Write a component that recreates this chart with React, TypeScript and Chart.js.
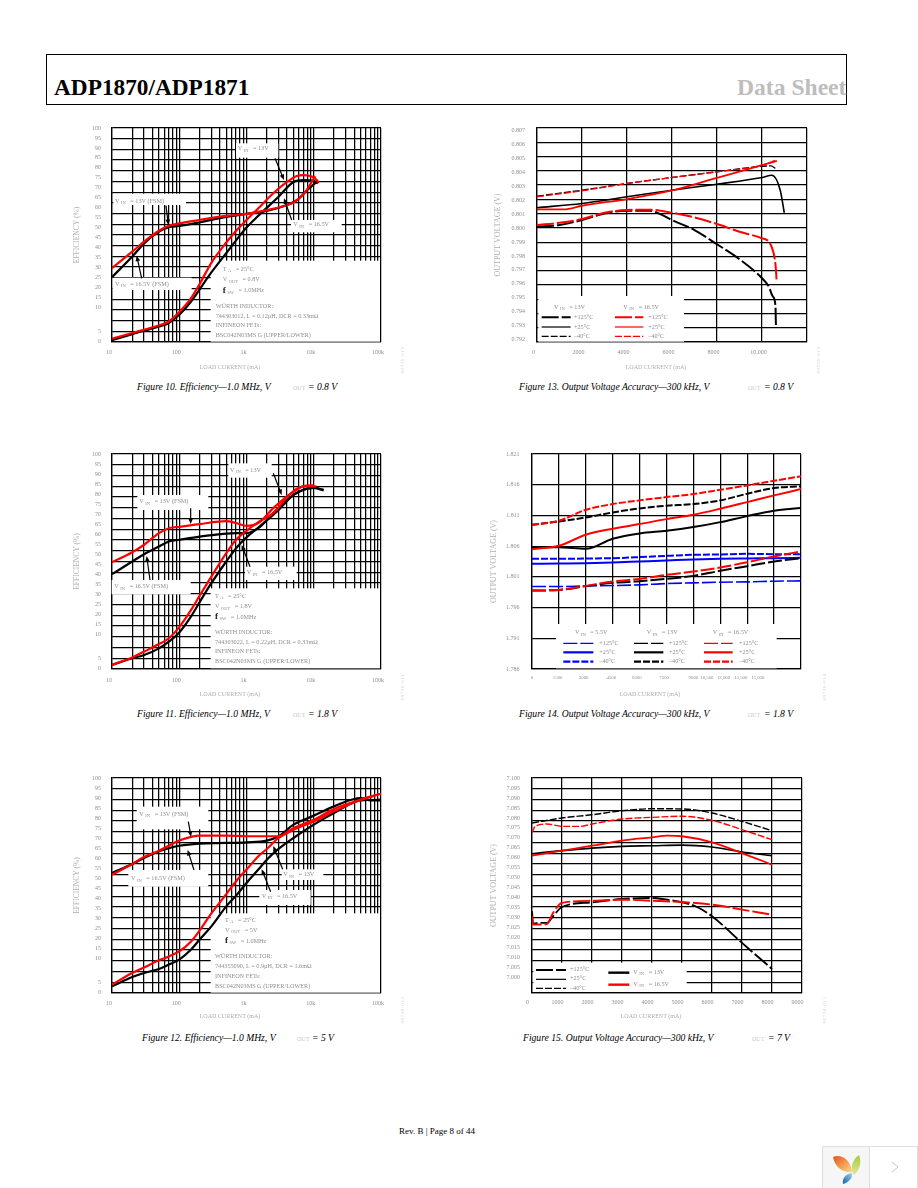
import React, { useEffect, useRef } from "react";
import { Chart, registerables } from "chart.js";

Chart.register(...registerables);

const SERIF = '"Liberation Serif", "Times New Roman", serif';
const BLACK = "#000000";
const RED = "#ff0000";
const BLUE = "#0000ff";

/* ---------- axis ticks ---------- */
const logGridTicks = [
  10, 20, 30, 40, 50, 60, 70, 80, 90, 100, 200, 300, 400, 500, 600, 700, 800, 900, 1000, 2000, 3000, 4000, 5000, 6000,
  7000, 8000, 9000, 10000, 20000, 30000, 40000, 50000, 60000, 70000, 80000, 90000, 100000,
];
const logLabelValues = [10, 100, 1000, 10000, 100000];
const logLabelTexts = ["10", "100", "1k", "10k", "100k"];
const effGridTicks = [0, 5, 10, 15, 20, 25, 30, 35, 40, 45, 50, 55, 60, 65, 70, 75, 80, 85, 90, 95, 100];
const effLabelTexts = ["100", "95", "90", "85", "80", "75", "70", "65", "60", "55", "50", "45", "40", "35", "30", "25", "20", "15", "10", "5", "0"];
const effLabelStops = [100, 95, 90, 85, 80, 75, 70, 65, 60, 55, 50, 45, 40, 35, 30, 25, 20, 15, 10, -2, -7];

const fig13GridY = [0.792, 0.793, 0.794, 0.795, 0.796, 0.797, 0.798, 0.799, 0.8, 0.801, 0.802, 0.803, 0.804, 0.805, 0.806, 0.807];
const fig13LabelY = ["0.807", "0.806", "0.805", "0.804", "0.803", "0.802", "0.801", "0.800", "0.799", "0.798", "0.797", "0.796", "0.795", "0.794", "0.793", "0.792"];
const fig13GridX = [0, 2000, 4000, 6000, 8000, 10000, 12000];
const fig13LabelX = ["0", "2000", "4000", "6000", "8000", "10,000", ""];

const fig14GridY = [1.786, 1.791, 1.796, 1.801, 1.806, 1.811, 1.816, 1.821];
const fig14LabelY = ["1.821", "1.816", "1.811", "1.806", "1.801", "1.796", "1.791", "1.786"];
const fig14GridX = [0, 1500, 3000, 4500, 6000, 7500, 9000, 10500, 12000, 13500, 15000];
const fig14LabelX = ["0", "1500", "3000", "4500", "6000", "7500", "9000", "10,500", "12,000", "13,500", "15,000"];
const fig14LabelStops = [0, 1430, 2880, 4420, 5850, 7370, 9000, 9750, 10680, 11640, 12590];

const fig15GridY = [7.0, 7.005, 7.01, 7.015, 7.02, 7.025, 7.03, 7.035, 7.04, 7.045, 7.05, 7.055, 7.06, 7.065, 7.07, 7.075, 7.08, 7.085, 7.09, 7.095, 7.1];
const fig15LabelY = ["7.100", "7.095", "7.090", "7.085", "7.080", "7.075", "7.070", "7.065", "7.060", "7.055", "7.050", "7.045", "7.040", "7.035", "7.030", "7.025", "7.020", "7.015", "7.010", "7.005", "7.000"];
const fig15GridX = [0, 1000, 2000, 3000, 4000, 5000, 6000, 7000, 8000, 9000];
const fig15LabelX = ["0", "1000", "2000", "3000", "4000", "5000", "6000", "7000", "8000", "9000"];

/* ---------- Figure 10 ---------- */
const f10RedFsmX = [10, 20, 30, 50, 70, 100, 200, 500, 1000, 2000, 4000, 5000, 7000, 10000, 10500];
const f10RedFsmY = [34.5, 42.2, 46.9, 52, 54.3, 55.4, 57, 58.9, 59.9, 61.6, 64, 65.2, 68.9, 76.4, 77.5];
const f10BlackFsmX = [10, 20, 30, 50, 70, 100, 200, 500, 1000, 2000, 4000, 5600, 8000, 11500];
const f10BlackFsmY = [30.3, 39.9, 46.1, 51.6, 53.6, 54.2, 55.9, 58.5, 59.9, 61.2, 64, 66.3, 71, 75.3];
const f10RedCcmX = [10, 20, 50, 70, 100, 150, 200, 300, 500, 700, 1000, 1500, 2500, 4000, 5600, 7000, 10000, 12000];
const f10RedCcmY = [1.6, 4.2, 7.8, 9.6, 14, 20.5, 27, 37, 46.5, 52, 57, 62.5, 69.5, 74.8, 77.6, 78, 76.9, 74.4];
const f10BlackCcmX = [10, 20, 50, 70, 100, 150, 200, 300, 500, 700, 1000, 1500, 3000, 5000, 7000, 10000, 11500];
const f10BlackCcmY = [0.9, 3.7, 7.3, 8.9, 12.7, 18.9, 24.5, 32.5, 41.5, 47.5, 53.5, 59, 67.9, 74.8, 75.6, 75.3, 74.1];

/* ---------- Figure 11 ---------- */
const f11RedFsmX = [10, 20, 30, 50, 70, 100, 200, 500, 700, 1000, 1500, 2500, 4000, 5600, 7000, 10000];
const f11RedFsmY = [49.7, 54.3, 57.8, 63.2, 65.5, 66.1, 67.4, 68.8, 67.9, 66.6, 67.9, 74.8, 80.3, 83.4, 85.1, 85.4];
const f11BlackFsmX = [10, 20, 30, 50, 70, 100, 200, 500, 700, 1000, 1500, 2500, 4000, 7000, 10000, 14000];
const f11BlackFsmY = [44.1, 50, 53.4, 57, 59.3, 60.1, 61.6, 63, 63.2, 63.2, 65.5, 72.5, 78.7, 83.4, 84.2, 83.4];
const f11RedCcmX = [10, 20, 30, 50, 70, 100, 150, 200, 300, 500, 700, 1000, 1500, 2500, 4000, 5600, 8000, 11000];
const f11RedCcmY = [1.9, 5.4, 8.1, 11.6, 14.3, 19.5, 27.5, 34, 43, 53.9, 60.1, 64.3, 68.3, 72.5, 79.8, 83.9, 85.1, 84.9];
const f11BlackCcmX = [10, 20, 30, 50, 70, 100, 150, 200, 300, 500, 700, 1000, 1500, 3000, 5000, 7000, 10000, 14000];
const f11BlackCcmY = [1.9, 5, 6.5, 9.6, 12.7, 17, 24.5, 31, 39.9, 50, 56.2, 61.2, 65.8, 74, 81, 83.4, 84.2, 83.1];

/* ---------- Figure 12 ---------- */
const f12RedFsmX = [10, 20, 30, 50, 70, 100, 150, 200, 500, 1000, 2000, 3000, 5000, 10000, 20000, 50000, 100000];
const f12RedFsmY = [55, 60, 63.3, 66.2, 68.5, 70.9, 72.6, 73.2, 73.2, 72.9, 72.9, 72.9, 76.7, 80.6, 85.6, 89.9, 92.7];
const f12BlackFsmX = [10, 20, 30, 50, 70, 100, 200, 500, 1000, 2000, 3000, 5000, 10000, 20000, 50000, 70000, 100000];
const f12BlackFsmY = [55.8, 60, 62.8, 65.9, 67.4, 68.5, 69.5, 69.8, 70.1, 70.9, 72.9, 78.3, 82.5, 86.8, 90.7, 89.6, 89.6];
const f12RedCcmX = [10, 20, 30, 50, 70, 100, 150, 200, 300, 500, 700, 1000, 1500, 2000, 3000, 5000, 10000, 20000, 50000, 100000];
const f12RedCcmY = [3.9, 9.3, 11.9, 15.2, 17, 19.4, 24, 29, 37, 46, 52, 57.4, 63.6, 67, 72.1, 75.9, 79.8, 84.5, 89.9, 92.7];
const f12BlackCcmX = [10, 20, 30, 50, 70, 100, 150, 200, 300, 500, 700, 1000, 1500, 2000, 3000, 5000, 10000, 20000, 50000, 100000];
const f12BlackCcmY = [3.1, 7.4, 9.3, 11.2, 13.2, 15.5, 20.2, 24.8, 31, 40.3, 45.3, 51.2, 57.4, 62, 67, 72.1, 78.3, 83.7, 89.6, 89.9];

/* ---------- Figure 13 ---------- */
const f13Black25X = [0, 2000, 4000, 6000, 8000, 10000, 10440, 10810, 10990];
const f13Black25Y = [0.80141, 0.80171, 0.80218, 0.80264, 0.80306, 0.80353, 0.80369, 0.80264, 0.80106];
const f13Red25X = [0, 1200, 2000, 4000, 6000, 8000, 10000, 10660];
const f13Red25Y = [0.80129, 0.80129, 0.80155, 0.80202, 0.80262, 0.80351, 0.80439, 0.80469];
const f13BlackM40X = [0, 2000, 4000, 6000, 8000, 10000, 10400, 10600];
const f13BlackM40Y = [0.80222, 0.80264, 0.80311, 0.80353, 0.80393, 0.80432, 0.80434, 0.80416];
const f13RedM40X = [0, 2000, 4000, 6000, 8000, 10000, 10600];
const f13RedM40Y = [0.80218, 0.8026, 0.80311, 0.80353, 0.80393, 0.80439, 0.80474];
const f13Black125X = [0, 1000, 2000, 3000, 4000, 5000, 5500, 6000, 7000, 8000, 9000, 10000, 10300, 10480, 10600, 10620];
const f13Black125Y = [0.80008, 0.8002, 0.80055, 0.80101, 0.8012, 0.8012, 0.80095, 0.80055, 0.79985, 0.79885, 0.7978, 0.79647, 0.79589, 0.79519, 0.7945, 0.79298];
const f13Red125X = [0, 1000, 2000, 3000, 4000, 5000, 6000, 7000, 8000, 9000, 10000, 10300, 10500, 10600, 10650];
const f13Red125Y = [0.8002, 0.80036, 0.80062, 0.80106, 0.80125, 0.80127, 0.80106, 0.80073, 0.80027, 0.79973, 0.79927, 0.79903, 0.79833, 0.7974, 0.79631];

/* ---------- Figure 14 ---------- */
const f14X = [0, 1500, 3000, 4500, 6000, 7500, 9000, 10500, 12000, 13500, 15000];
const f14Red40 = [1.80948, 1.81013, 1.81192, 1.81285, 1.81345, 1.81399, 1.81448, 1.81518, 1.81589, 1.81665, 1.81736];
const f14Black40 = [1.80948, 1.81002, 1.81067, 1.81149, 1.81214, 1.81258, 1.81285, 1.81345, 1.81453, 1.81546, 1.81573];
const f14Red25 = [1.80551, 1.80605, 1.80785, 1.80883, 1.80959, 1.8104, 1.81111, 1.81209, 1.81317, 1.81426, 1.81529];
const f14Black25 = [1.80584, 1.80584, 1.80557, 1.8072, 1.80807, 1.8085, 1.8091, 1.80991, 1.81089, 1.81176, 1.8122];
const f14Blue40 = [1.80393, 1.80393, 1.80399, 1.80404, 1.80421, 1.80442, 1.80459, 1.80464, 1.80475, 1.8047, 1.8047];
const f14Blue25 = [1.80312, 1.80317, 1.80323, 1.80334, 1.8035, 1.80366, 1.80383, 1.80393, 1.80399, 1.80404, 1.8041];
const f14Red125 = [1.79877, 1.79888, 1.79953, 1.80024, 1.80067, 1.80133, 1.80187, 1.80252, 1.80339, 1.80432, 1.80513];
const f14Black125 = [1.79877, 1.79888, 1.79948, 1.80002, 1.80029, 1.80067, 1.80116, 1.80198, 1.80274, 1.8035, 1.80404];
const f14Blue125 = [1.79942, 1.79942, 1.79953, 1.79959, 1.7997, 1.79991, 1.80002, 1.80013, 1.80018, 1.80029, 1.80035];

/* ---------- Figure 15 ---------- */
const f15X = [0, 1000, 2000, 3000, 4000, 5000, 6000, 7000, 8000];
const f15BlackM40 = [7.0791, 7.0814, 7.0829, 7.0848, 7.0857, 7.0856, 7.0837, 7.0798, 7.0755];
const f15RedM40X = [0, 100, 500, 1000, 1600, 2000, 3000, 4000, 5000, 6000, 7000, 8000];
const f15RedM40 = [7.0744, 7.0775, 7.0786, 7.0775, 7.0775, 7.0786, 7.0809, 7.0817, 7.0822, 7.0803, 7.076, 7.0713];
const f15Black25 = [7.0648, 7.0662, 7.0674, 7.0682, 7.0685, 7.0688, 7.0679, 7.0656, 7.0639];
const f15Red25X = [0, 1000, 2000, 3000, 4000, 4500, 5000, 6000, 7000, 8000];
const f15Red25 = [7.0639, 7.0662, 7.0685, 7.0709, 7.0724, 7.0732, 7.0729, 7.0701, 7.0651, 7.0597];
const f15Black125X = [0, 35, 200, 500, 700, 1000, 2000, 3000, 4000, 4500, 5000, 5500, 6000, 7000, 8000];
const f15Black125 = [7.038, 7.0322, 7.0326, 7.0326, 7.0357, 7.04, 7.0422, 7.0437, 7.0442, 7.0434, 7.0422, 7.04, 7.0357, 7.0233, 7.0112];
const f15Red125X = [0, 35, 500, 700, 1000, 2000, 3000, 4000, 5000, 6000, 7000, 8000];
const f15Red125 = [7.0357, 7.0318, 7.0321, 7.0372, 7.0419, 7.0429, 7.0434, 7.0429, 7.0423, 7.0411, 7.0388, 7.0364];

/* ---------- helpers ---------- */
const zip = (xs: number[], ys: number[]) => xs.map((x, i) => ({ x, y: ys[i] }));
const THICK = 2.2;
const s = (name: string, xs: number[], ys: number[], color: string, width = THICK, dash: number[] = []) => ({
  label: name,
  data: zip(xs, ys),
  borderColor: color,
  borderWidth: width,
  borderDash: dash,
  pointRadius: 0,
  fill: false,
  cubicInterpolationMode: "monotone",
});

const LONG = [17, 3];
const SHORT = [7, 2];
const M125 = "+125\u00B0C";
const P25 = "+25\u00B0C";
const M40 = "\u201340\u00B0C";

type Note = {
  boxes?: number[][];
  texts?: [number, number, string][];
  arrows?: number[][];
  samples?: [number, number, number, string, number, number[]][];
};

const efficiencyText = (x1: number, x2: number, ys: number[], vout: string, part: string) =>
  [
    [x1, ys[0], "T_A_  = 25\u00B0C"],
    [x1, ys[1], `V_OUT_  = ${vout}`],
    [x1, ys[2], "f_SW_  = 1.0MHz"],
    [x2, ys[3], "W\u00DCRTH INDUCTOR:"],
    [x2, ys[4], part],
    [x2, ys[5], "INFINEON FETs:"],
    [x2, ys[6], "BSC042N03MS G (UPPER/LOWER)"],
  ] as [number, number, string][];

const figures = [
  {
    id: "fig10",
    plot: [112, 128, 381, 342],
    origin: [60, 115],
    yw: 39,
    tickPad: 11,
    xPad: 7,
    xFont: 6,
    xTitle: [510, 757],
    xScale: { type: "logarithmic", min: 10, max: 100000, grid: logGridTicks, labelsAt: logLabelValues, labels: logLabelTexts, labelOffset: -3 },
    yScale: { min: 0, max: 100, grid: effGridTicks },
    yLabels: { min: -7.33, max: 100, stops: effLabelStops, texts: effLabelTexts },
    yTitle: "EFFICIENCY (%)",
    series: [
      s("13V FSM", f10RedFsmX, f10RedFsmY, RED),
      s("13V", f10RedCcmX, f10RedCcmY, RED),
      s("16.5V FSM", f10BlackFsmX, f10BlackFsmY, BLACK),
      s("16.5V", f10BlackCcmX, f10BlackCcmY, BLACK),
    ],
    note: {
      boxes: [[528, 85, 655, 128], [160, 236, 378, 270], [693, 315, 845, 352], [158, 488, 395, 525], [452, 437, 960, 680]],
      texts: [
        [533, 100, "V_IN_  = 13V"],
        [165, 258, "V_IN_  = 13V (FSM)"],
        [700, 328, "V_IN_  = 16.5V"],
        [165, 507, "V_IN_  = 16.5V (FSM)"],
        ...efficiencyText(488, 467, [462, 494, 527, 575, 603, 632, 660], "0.8V", "744303012, L = 0.12\u00B5H, DCR = 0.33m\u03A9"),
      ],
      arrows: [[645, 130, 672, 195], [695, 315, 672, 250], [318, 272, 325, 330], [245, 490, 230, 422]],
    } as Note,
  },
  {
    id: "fig13",
    plot: [537, 128, 807, 342],
    origin: [480, 115],
    yw: 44,
    tickPad: 12,
    xPad: 7,
    xFont: 6,
    xTitle: [528, 757],
    xScale: { type: "linear", min: 0, max: 12000, grid: fig13GridX, labelsAt: fig13GridX, labels: fig13LabelX, labelOffset: -3.5 },
    yScale: { min: 0.792, max: 0.807, grid: fig13GridY },
    yLabels: { min: 0.79183, max: 0.80717, stops: [...fig13GridY].reverse(), texts: fig13LabelY },
    yTitle: "OUTPUT VOLTAGE (V)",
    series: [
      s("16.5V +25", f13Red25X, f13Red25Y, RED, 1.8),
      s("16.5V -40", f13RedM40X, f13RedM40Y, RED, 1.3, SHORT),
      s("16.5V +125", f13Red125X, f13Red125Y, RED, 2, LONG),
      s("13V +25", f13Black25X, f13Black25Y, BLACK, 1.6),
      s("13V -40", f13BlackM40X, f13BlackM40Y, BLACK, 1.3, SHORT),
      s("13V +125", f13Black125X, f13Black125Y, BLACK, 2, LONG),
    ],
    note: {
      boxes: [[175, 543, 612, 680]],
      texts: [
        [222, 576, "V_IN_  = 13V"],
        [430, 576, "V_IN_  = 16.5V"],
        [282, 607, M125],
        [282, 636, P25],
        [282, 664, M40],
        [505, 607, M125],
        [505, 636, P25],
        [505, 664, M40],
      ],
      samples: [
        [185, 272, 607, BLACK, 2, LONG],
        [185, 272, 636, BLACK, 1.2, []],
        [185, 272, 664, BLACK, 1.2, SHORT],
        [405, 490, 607, RED, 2, LONG],
        [405, 490, 636, RED, 1.2, []],
        [405, 490, 664, RED, 1.2, SHORT],
      ],
    } as Note,
  },
  {
    id: "fig11",
    plot: [112, 454, 381, 669],
    origin: [60, 445],
    yw: 39,
    tickPad: 11,
    xPad: 8,
    xFont: 6,
    xTitle: [510, 747],
    xScale: { type: "logarithmic", min: 10, max: 100000, grid: logGridTicks, labelsAt: logLabelValues, labels: logLabelTexts, labelOffset: -3 },
    yScale: { min: 0, max: 100, grid: effGridTicks },
    yLabels: { min: -7.33, max: 100, stops: effLabelStops, texts: effLabelTexts },
    yTitle: "EFFICIENCY (%)",
    series: [
      s("13V FSM", f11RedFsmX, f11RedFsmY, RED),
      s("13V", f11RedCcmX, f11RedCcmY, RED),
      s("16.5V FSM", f11BlackFsmX, f11BlackFsmY, BLACK),
      s("16.5V", f11BlackCcmX, f11BlackCcmY, BLACK),
    ],
    note: {
      boxes: [[505, 55, 635, 98], [232, 150, 445, 195], [155, 405, 392, 448], [555, 365, 710, 405], [452, 430, 960, 670]],
      texts: [
        [510, 75, "V_IN_  = 13V"],
        [238, 170, "V_IN_  = 13V (FSM)"],
        [163, 424, "V_IN_  = 16.5V (FSM)"],
        [560, 382, "V_IN_  = 16.5V"],
        ...efficiencyText(465, 465, [453, 485, 516, 563, 591, 620, 650], "1.8V", "744303022, L = 0.22\u00B5H, DCR = 0.33m\u03A9"),
      ],
      arrows: [[640, 85, 665, 150], [392, 190, 392, 237], [270, 405, 260, 333], [570, 365, 545, 300]],
    } as Note,
  },
  {
    id: "fig14",
    plot: [532, 454, 801, 669],
    origin: [480, 445],
    yw: 43,
    tickPad: 12.5,
    xPad: 6,
    xFont: 4.8,
    xTitle: [510, 747],
    xScale: { type: "linear", min: 0, max: 15000, grid: fig14GridX, labelsAt: fig14LabelStops, labels: fig14LabelX, labelOffset: 0 },
    yScale: { min: 1.786, max: 1.821, grid: fig14GridY },
    yLabels: { min: 1.786, max: 1.821, stops: [...fig14GridY].reverse(), texts: fig14LabelY },
    yTitle: "OUTPUT VOLTAGE (V)",
    series: [
      s("16.5V -40", f14X, f14Red40, RED, 2, SHORT),
      s("16.5V +25", f14X, f14Red25, RED, 2),
      s("16.5V +125", f14X, f14Red125, RED, 2, [14, 3]),
      s("13V -40", f14X, f14Black40, BLACK, 2, SHORT),
      s("13V +25", f14X, f14Black25, BLACK, 2),
      s("13V +125", f14X, f14Black125, BLACK, 2, [14, 3]),
      s("5.5V -40", f14X, f14Blue40, BLUE, 2, SHORT),
      s("5.5V +25", f14X, f14Blue25, BLUE, 2),
      s("5.5V +125", f14X, f14Blue125, BLUE, 1.6, [14, 3]),
    ],
    note: {
      boxes: [[228, 537, 890, 670]],
      texts: [
        [285, 562, "V_IN_  = 5.5V"],
        [500, 562, "V_IN_  = 13V"],
        [698, 562, "V_IN_  = 16.5V"],
        [358, 595, M125], [358, 622, P25], [358, 650, M40],
        [567, 595, M125], [567, 622, P25], [567, 650, M40],
        [777, 595, M125], [777, 622, P25], [777, 650, M40],
      ],
      samples: [
        [250, 340, 595, BLUE, 1.2, [14, 3]], [250, 340, 622, BLUE, 2.2, []], [250, 340, 650, BLUE, 2.2, SHORT],
        [462, 550, 595, BLACK, 1.2, [14, 3]], [462, 550, 622, BLACK, 2.2, []], [462, 550, 650, BLACK, 2.2, SHORT],
        [672, 758, 595, RED, 1.2, [14, 3]], [672, 758, 622, RED, 2.2, []], [672, 758, 650, RED, 2.2, SHORT],
      ],
    } as Note,
  },
  {
    id: "fig12",
    plot: [112, 778, 381, 993],
    origin: [60, 770],
    yw: 39,
    tickPad: 11,
    xPad: 7,
    xFont: 6,
    xTitle: [510, 740],
    xScale: { type: "logarithmic", min: 10, max: 100000, grid: logGridTicks, labelsAt: logLabelValues, labels: logLabelTexts, labelOffset: -3 },
    yScale: { min: 0, max: 100, grid: effGridTicks },
    yLabels: { min: -7.33, max: 100, stops: effLabelStops, texts: effLabelTexts },
    yTitle: "EFFICIENCY (%)",
    series: [
      s("13V FSM", f12RedFsmX, f12RedFsmY, RED),
      s("13V", f12RedCcmX, f12RedCcmY, RED),
      s("16.5V FSM", f12BlackFsmX, f12BlackFsmY, BLACK),
      s("16.5V", f12BlackCcmX, f12BlackCcmY, BLACK),
    ],
    note: {
      boxes: [[230, 110, 445, 178], [205, 300, 445, 350], [665, 298, 790, 330], [598, 360, 752, 405], [452, 430, 960, 668]],
      texts: [
        [238, 132, "V_IN_  = 13V (FSM)"],
        [213, 325, "V_IN_  = 16.5V (FSM)"],
        [670, 313, "V_IN_  = 13V"],
        [605, 378, "V_IN_  = 16.5V"],
        ...efficiencyText(495, 465, [450, 480, 513, 560, 588, 618, 648], "5V", "744355090, L = 0.9\u00B5H, DCR = 1.6m\u03A9"),
      ],
      arrows: [[385, 155, 393, 200], [402, 300, 383, 240], [668, 298, 640, 228], [632, 365, 605, 298]],
    } as Note,
  },
  {
    id: "fig15",
    plot: [532, 778, 802, 993],
    origin: [480, 770],
    yw: 43,
    tickPad: 12,
    xPad: 5.5,
    xFont: 6,
    xTitle: [513, 740],
    xScale: { type: "linear", min: 0, max: 9000, grid: fig15GridX, labelsAt: fig15GridX, labels: fig15LabelX, labelOffset: -4.5 },
    yScale: { min: 7.0, max: 7.1, grid: fig15GridY },
    yLabels: { min: 6.9923, max: 7.1, stops: [...fig15GridY].reverse(), texts: fig15LabelY },
    yTitle: "OUTPUT VOLTAGE (V)",
    series: [
      s("16.5V +25", f15Red25X, f15Red25, RED, 1.8),
      s("16.5V -40", f15RedM40X, f15RedM40, RED, 1.4, SHORT),
      s("16.5V +125", f15Red125X, f15Red125, RED, 1.9, LONG),
      s("13V +25", f15X, f15Black25, BLACK, 1.6),
      s("13V -40", f15X, f15BlackM40, BLACK, 1.4, SHORT),
      s("13V +125", f15Black125X, f15Black125, BLACK, 1.9, LONG),
    ],
    note: {
      boxes: [[160, 578, 620, 666]],
      texts: [
        [270, 597, M125],
        [270, 626, P25],
        [270, 654, M40],
        [460, 606, "V_IN_  = 13V"],
        [460, 642, "V_IN_  = 16.5V"],
      ],
      samples: [
        [168, 258, 600, BLACK, 2, LONG],
        [168, 258, 628, BLACK, 1.2, []],
        [168, 258, 655, BLACK, 1.2, SHORT],
        [385, 448, 608, BLACK, 2.4, []],
        [385, 448, 644, RED, 2.4, []],
      ],
    } as Note,
  },
];

const captions = [
  { text: "Figure 10. Efficiency\u20141.0 MHz, V", x: 137, out: 293, tail: "= 0.8 V", tx: 308, y: 387 },
  { text: "Figure 13. Output Voltage Accuracy\u2014300 kHz, V", x: 519, out: 748, tail: "= 0.8 V", tx: 764, y: 387 },
  { text: "Figure 11. Efficiency\u20141.0 MHz, V", x: 137, out: 293, tail: "= 1.8 V", tx: 308, y: 714 },
  { text: "Figure 14. Output Voltage Accuracy\u2014300 kHz, V", x: 519, out: 748, tail: "= 1.8 V", tx: 764, y: 714 },
  { text: "Figure 12. Efficiency\u20141.0 MHz, V", x: 142, out: 297, tail: "= 5 V", tx: 312, y: 1038 },
  { text: "Figure 15. Output Voltage Accuracy\u2014300 kHz, V", x: 523, out: 752, tail: "= 7 V", tx: 768, y: 1038 },
];

const figureCodes = [
  { text: "08730-010", x: 403, y: 360 },
  { text: "08730-013", x: 819, y: 360 },
  { text: "08730-011", x: 403, y: 687 },
  { text: "08730-014", x: 825, y: 687 },
  { text: "08730-012", x: 403, y: 1010 },
  { text: "08730-015", x: 825, y: 1010 },
];

const CANVAS_RIGHT = 18;
const CANVAS_TOP = 20;
const CANVAS_BOTTOM = 32;
const TICK_FONT = { family: SERIF, size: 6 };
const TICK_COLOR = "#8e8e8e";
const TITLE_COLOR = "#aeaeae";
const GRID_W = 1.25;

function drawRich(ctx: CanvasRenderingContext2D, x: number, y: number, text: string) {
  const parts = text.split("_");
  ctx.textBaseline = "middle";
  ctx.textAlign = "left";
  let cx = x;
  parts.forEach((p, i) => {
    const isSub = i % 2 === 1;
    const isF = i === 0 && p === "f";
    ctx.font = isF ? `bold 9px ${SERIF}` : isSub ? `4.5px ${SERIF}` : `6.2px ${SERIF}`;
    ctx.fillStyle = isF ? "#222" : TICK_COLOR;
    ctx.fillText(p, cx, isSub ? y + 2 : y);
    cx += ctx.measureText(p).width + (i < parts.length - 1 ? 1.5 : 0);
  });
}

function FigureChart({ fig }: { fig: any }) {
  const ref = useRef<HTMLCanvasElement | null>(null);
  const [L, T, R, B] = fig.plot;
  const left = L - fig.yw;
  const top = T - CANVAS_TOP;
  const width = R + CANVAS_RIGHT - left;
  const height = B + CANVAS_BOTTOM - top;

  useEffect(() => {
    const [ox, oy] = fig.origin;
    const cx = (z: number) => ox + z / 3 - left;
    const cy = (z: number) => oy + z / 3 - top;
    const note: Note = fig.note;
    const plugin = {
      id: "notes",
      beforeDatasetsDraw(chart: any) {
        const ctx = chart.ctx;
        ctx.save();
        ctx.fillStyle = "#ffffff";
        (note.boxes || []).forEach(([a, b, c, d]) => ctx.fillRect(cx(a), cy(b), (c - a) / 3, (d - b) / 3));
        (note.texts || []).forEach(([a, b, t]) => drawRich(ctx, cx(a), cy(b), t));
        (note.samples || []).forEach(([a, b, y, color, w, dash]) => {
          ctx.beginPath();
          ctx.setLineDash(dash);
          ctx.strokeStyle = color;
          ctx.lineWidth = w;
          ctx.moveTo(cx(a), cy(y));
          ctx.lineTo(cx(b), cy(y));
          ctx.stroke();
        });
        ctx.setLineDash([]);
        ctx.font = `6px ${SERIF}`;
        ctx.fillStyle = TITLE_COLOR;
        ctx.textAlign = "center";
        ctx.textBaseline = "middle";
        ctx.fillText("LOAD CURRENT (mA)", cx(fig.xTitle[0]), cy(fig.xTitle[1]));
        ctx.restore();
      },
      afterDatasetsDraw(chart: any) {
        const ctx = chart.ctx;
        ctx.save();
        ctx.strokeStyle = "#000";
        ctx.fillStyle = "#000";
        ctx.lineWidth = 1.2;
        (note.arrows || []).forEach(([a, b, c, d]) => {
          const x0 = cx(a), y0 = cy(b), x1 = cx(c), y1 = cy(d);
          const ang = Math.atan2(y1 - y0, x1 - x0);
          ctx.beginPath();
          ctx.moveTo(x0, y0);
          ctx.lineTo(x1 - 4 * Math.cos(ang), y1 - 4 * Math.sin(ang));
          ctx.stroke();
          ctx.beginPath();
          ctx.moveTo(x1, y1);
          ctx.lineTo(x1 - 6 * Math.cos(ang - 0.4), y1 - 6 * Math.sin(ang - 0.4));
          ctx.lineTo(x1 - 6 * Math.cos(ang + 0.4), y1 - 6 * Math.sin(ang + 0.4));
          ctx.closePath();
          ctx.fill();
        });
        ctx.restore();
      },
    };

    const xs = fig.xScale;
    const gridOpts = { color: "#000", lineWidth: GRID_W, drawTicks: false };
    const borderOpts = { color: "#000", width: GRID_W };

    const chart = new Chart(ref.current as HTMLCanvasElement, {
      type: "line",
      data: { datasets: fig.series },
      plugins: [plugin],
      options: {
        responsive: false,
        animation: false,
        devicePixelRatio: 1,
        events: [],
        layout: { autoPadding: false, padding: { top: CANVAS_TOP, right: CANVAS_RIGHT, left: 0, bottom: 0 } },
        plugins: { legend: { display: false }, tooltip: { enabled: false }, title: { display: false } },
        scales: {
          x: {
            type: xs.type,
            bounds: "data",
            position: "bottom",
            min: xs.min,
            max: xs.max,
            grid: gridOpts,
            border: borderOpts,
            ticks: { display: false, autoSkip: false },
            afterBuildTicks: (a: any) => {
              a.ticks = xs.grid.map((value: number) => ({ value }));
            },
            afterFit: (a: any) => {
              a.height = 0;
            },
          },
          xl: {
            type: xs.type,
            bounds: "data",
            position: "bottom",
            min: xs.min,
            max: xs.max,
            grid: { display: false, drawTicks: false },
            border: { display: false },
            ticks: {
              autoSkip: false,
              maxRotation: 0,
              minRotation: 0,
              padding: fig.xPad,
              labelOffset: xs.labelOffset,
              font: { family: SERIF, size: fig.xFont },
              color: TICK_COLOR,
              callback: (_v: any, i: number) => xs.labels[i],
            },
            afterBuildTicks: (a: any) => {
              a.ticks = xs.labelsAt.map((value: number) => ({ value }));
            },
            afterFit: (a: any) => {
              a.height = CANVAS_BOTTOM;
            },
          },
          y: {
            type: "linear",
            bounds: "data",
            position: "left",
            min: fig.yScale.min,
            max: fig.yScale.max,
            grid: gridOpts,
            border: borderOpts,
            ticks: { display: false },
            afterBuildTicks: (a: any) => {
              a.ticks = fig.yScale.grid.map((value: number) => ({ value }));
            },
            afterFit: (a: any) => {
              a.width = 0;
            },
          },
          yl: {
            type: "linear",
            bounds: "data",
            position: "left",
            min: fig.yLabels.min,
            max: fig.yLabels.max,
            grid: { display: false, drawTicks: false },
            border: { display: false },
            ticks: {
              padding: fig.tickPad,
              font: TICK_FONT,
              color: TICK_COLOR,
              autoSkip: false,
              callback: (_v: any, i: number) => fig.yLabels.texts[i],
            },
            title: {
              display: true,
              text: fig.yTitle,
              color: TITLE_COLOR,
              padding: 0,
              font: { family: SERIF, size: fig.yTitle.startsWith("EFF") ? 7.5 : 8 },
            },
            afterBuildTicks: (a: any) => {
              a.ticks = fig.yLabels.stops.map((value: number) => ({ value }));
            },
            afterFit: (a: any) => {
              a.width = fig.yw;
            },
          },
        },
      },
    } as any);
    return () => chart.destroy();
  }, []);

  return <canvas ref={ref} width={width} height={height} style={{ position: "absolute", left, top, width, height }} />;
}

const abs = (x: number, y: number, extra: any = {}) => ({ position: "absolute", left: x, top: y, whiteSpace: "pre", ...extra });

export default function App() {
  return (
    <div style={{ position: "absolute", left: 0, top: 0, width: 918, height: 1188, overflow: "hidden", background: "#fff", fontFamily: SERIF }}>
      <div style={{ position: "absolute", left: 46, top: 54, width: 799, height: 49, border: "1px solid #000" }} />
      <div style={abs(54, 74, { font: `bold 23.3px/26px ${SERIF}`, color: "#000" })}>ADP1870/ADP1871</div>
      <div style={abs(737, 74, { font: `bold 23.6px/26px ${SERIF}`, color: "#bdbdbd" })}>Data Sheet</div>

      {figures.map((f) => (
        <FigureChart key={f.id} fig={f} />
      ))}

      {captions.map((c) => (
        <React.Fragment key={c.text + c.y}>
          <div style={abs(c.x, c.y - 7, { font: `italic 9.65px/14px ${SERIF}`, color: "#000" })}>{c.text}</div>
          <div style={abs(c.out, c.y - 6, { font: `6px/14px ${SERIF}`, color: "#c8c8c8" })}>OUT</div>
          <div style={abs(c.tx, c.y - 7, { font: `italic 9.65px/14px ${SERIF}`, color: "#000" })}>{c.tail}</div>
        </React.Fragment>
      ))}

      {figureCodes.map((c) => (
        <div
          key={c.text}
          style={abs(c.x - 20, c.y - 4, {
            width: 40,
            textAlign: "center",
            font: `5px/8px ${SERIF}`,
            color: "#d4d4d4",
            letterSpacing: "0.6px",
            transform: "rotate(-90deg)",
          })}
        >
          {c.text}
        </div>
      ))}

      <div style={abs(399, 1124, { font: `9px/14px ${SERIF}`, color: "#000" })}>Rev. B | Page 8 of 44</div>

      <svg width={96} height={42} viewBox="0 0 96 42" style={{ position: "absolute", left: 822, top: 1146 }}>
        <defs>
          <linearGradient id="po" x1="0" y1="0" x2="1" y2="1">
            <stop offset="0" stopColor="#e8521a" />
            <stop offset="1" stopColor="#fbd985" />
          </linearGradient>
          <linearGradient id="pg" x1="0" y1="0" x2="0" y2="1">
            <stop offset="0" stopColor="#a6c93a" />
            <stop offset="1" stopColor="#e4e79a" />
          </linearGradient>
          <linearGradient id="pb" x1="1" y1="0" x2="0" y2="1">
            <stop offset="0" stopColor="#a9d3ef" />
            <stop offset="1" stopColor="#0a62b0" />
          </linearGradient>
        </defs>
        <rect x="0.5" y="0.5" width="47" height="42" fill="#f6f6f6" stroke="#dddddd" />
        <rect x="47.5" y="0.5" width="48" height="42" fill="#ffffff" stroke="#dddddd" />
        <path d="M11 11 C18 8 28 12 30 26 C22 27 13 22 11 11 Z" fill="url(#po)" />
        <path d="M37 9 C40 16 38 24 32 29 C27 22 31 13 37 9 Z" fill="url(#pg)" />
        <path d="M30 27 C31 32 27 36 21 38 C20 33 23 28 30 27 Z" fill="url(#pb)" />
        <path d="M70 16 L76 21 L70 26" fill="none" stroke="#c4c4c4" strokeWidth="1" />
      </svg>
    </div>
  );
}
